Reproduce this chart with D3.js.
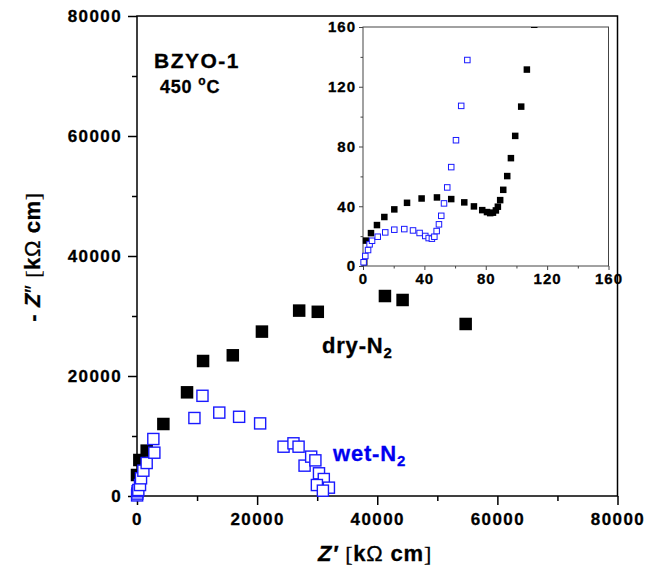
<!DOCTYPE html>
<meta charset="utf-8">
<head>
    <title>BZYO-1 impedance</title>
    <script src="https://cdn.jsdelivr.net/npm/d3@7"></script>
    <style>
        html, body { margin: 0; padding: 0; background: white; }
        svg text { font-family: "Liberation Sans", Arial, sans-serif; font-weight: bold; }
    </style>
</head>
<body>
<svg id="chart" width="659" height="570"></svg>
<script>
    // main plot data, Z' and -Z'' in kOhm cm
    var dryRe = [0, 390, 1610, 4390, 8330, 11000, 15950, 20800, 27000, 30100, 41280, 44220, 54720];
    var dryIm = [3500, 6000, 7560, 12000, 17280, 22500, 23450, 27400, 30900, 30700, 33330, 32670, 28670];
    var wetRe = [20, 50, 100, 220, 500, 670, 1060, 1610, 2890, 2720, 9560, 10900, 13700, 17000, 20500,
                 24400, 26050, 26900, 27900, 29000, 29700, 30300, 31100, 29950, 31950, 30950];
    var wetIm = [100, 400, 800, 1000, 1830, 2950, 4220, 5500, 7220, 9500, 13000, 16700, 13900, 13200, 12100,
                 8220, 8780, 8220, 5060, 6560, 5940, 3780, 2830, 1830, 1390, 890];

    // inset data (high frequency part)
    var dryReIn = [0.8, 2, 5.2, 9.1, 13.9, 20.4, 28.7, 38.2, 48.2, 57.5, 66, 72.3, 77.7, 80.8, 82.9, 84.7,
                   86.6, 87.9, 89.4, 91.4, 94, 96.4, 99.2, 103.1, 106.8, 111.6];
    var dryImIn = [2.5, 17, 22, 27.4, 32.8, 37.9, 42.3, 45.2, 45.9, 44.8, 42.6, 39.9, 37.4, 36.1, 35.4, 35.7,
                   37.2, 39.7, 44.1, 51, 60.2, 72.2, 87.1, 106.7, 131.5, 161.5];
    var wetReIn = [0.4, 1.5, 3.3, 4.3, 5.9, 9.6, 14.5, 20.4, 26.9, 32.6, 36.9, 40.6, 42.8, 44.9, 46.5,
                   48, 49.5, 51, 52.8, 54.9, 57.5, 60.6, 64, 68];
    var wetImIn = [2.5, 6.7, 10.7, 14.5, 16.9, 19.6, 22.5, 24.3, 24.7, 23.8, 22.1, 20.1, 18.7, 18.3, 19.6,
                   23.4, 27.9, 33.6, 41.9, 52.6, 66.2, 84.2, 107.2, 137.9];

    var mainTicks = [0, 20000, 40000, 60000, 80000];
    var insetTicks = [0, 40, 80, 120, 160];

    var svg = d3.select("#chart");

    // scales
    var x = d3.scaleLinear().domain([0, 80000]).range([137, 617.5]);
    var y = d3.scaleLinear().domain([0, 80000]).range([496, 16]);
    var xi = d3.scaleLinear().domain([0, 160]).range([363, 608.5]);
    var yi = d3.scaleLinear().domain([0, 160]).range([266, 27]);

    function styleAxis(g, labelSize, color, width) {
        g.select(".domain").remove();
        g.selectAll("line").attr("stroke", color).attr("stroke-width", width);
        g.selectAll("text").attr("font-size", labelSize).attr("letter-spacing", labelSize > 15 ? 1.4 : 1)
            .attr("fill", "#000").attr("stroke", "#000").attr("stroke-width", 0.3);
    }

    // main frame
    svg.append("rect")
        .attr("x", x(0)).attr("y", y(80000))
        .attr("width", x(80000) - x(0)).attr("height", y(0) - y(80000))
        .attr("fill", "none").attr("stroke", "#000").attr("stroke-width", 1.5);

    // minor ticks
    var minor = d3.range(10000, 80000, 20000);
    svg.append("g").attr("transform", "translate(0," + y(0) + ")")
        .call(d3.axisBottom(x).tickValues(minor).tickSize(5).tickFormat(""))
        .call(g => styleAxis(g, 17, "#000", 1.5));
    svg.append("g").attr("transform", "translate(" + x(0) + ",0)")
        .call(d3.axisLeft(y).tickValues(minor).tickSize(5).tickFormat(""))
        .call(g => styleAxis(g, 17, "#000", 1.5));

    // major ticks
    svg.append("g").attr("transform", "translate(0," + y(0) + ")")
        .call(d3.axisBottom(x).tickValues(mainTicks).tickSize(9).tickPadding(8).tickFormat(d3.format("d")))
        .call(g => styleAxis(g, 17, "#000", 1.5));
    svg.append("g").attr("transform", "translate(" + x(0) + ",0)")
        .call(d3.axisLeft(y).tickValues(mainTicks).tickSize(9).tickPadding(6).tickFormat(d3.format("d")))
        .call(g => styleAxis(g, 17, "#000", 1.5));

    // main markers
    var big = 12.5;
    svg.append("g").selectAll("rect")
        .data(d3.range(dryRe.length))
        .join("rect")
        .attr("x", i => x(dryRe[i]) - big / 2)
        .attr("y", i => y(dryIm[i]) - big / 2)
        .attr("width", big).attr("height", big)
        .attr("fill", "#000");

    svg.append("g").selectAll("rect")
        .data(d3.range(wetRe.length))
        .join("rect")
        .attr("x", i => x(wetRe[i]) - (big - 1.4) / 2)
        .attr("y", i => y(wetIm[i]) - (big - 1.4) / 2)
        .attr("width", big - 1.4).attr("height", big - 1.4)
        .attr("fill", "white").attr("stroke", "#1a1aff").attr("stroke-width", 1.4);

    // inset
    var inset = svg.append("g");
    inset.append("rect")
        .attr("x", xi(0)).attr("y", yi(160))
        .attr("width", xi(160) - xi(0)).attr("height", yi(0) - yi(160))
        .attr("fill", "white").attr("stroke", "#444").attr("stroke-width", 1);

    var minorIn = [20, 60, 100, 140];
    inset.append("g").attr("transform", "translate(0," + yi(0) + ")")
        .call(d3.axisBottom(xi).tickValues(minorIn).tickSize(2.5).tickFormat(""))
        .call(g => styleAxis(g, 15, "#444", 1));
    inset.append("g").attr("transform", "translate(" + xi(0) + ",0)")
        .call(d3.axisLeft(yi).tickValues(minorIn).tickSize(2.5).tickFormat(""))
        .call(g => styleAxis(g, 15, "#444", 1));
    inset.append("g").attr("transform", "translate(0," + yi(0) + ")")
        .call(d3.axisBottom(xi).tickValues(insetTicks).tickSize(4).tickPadding(3))
        .call(g => styleAxis(g, 15, "#444", 1));
    inset.append("g").attr("transform", "translate(" + xi(0) + ",0)")
        .call(d3.axisLeft(yi).tickValues(insetTicks).tickSize(4).tickPadding(3))
        .call(g => styleAxis(g, 15, "#444", 1));

    svg.append("clipPath").attr("id", "insetClip")
        .append("rect")
        .attr("x", xi(0) - 5).attr("y", yi(160))
        .attr("width", xi(160) - xi(0) + 5).attr("height", yi(0) - yi(160) + 5);

    var small = 6.5;
    var pts = inset.append("g").attr("clip-path", "url(#insetClip)");
    pts.append("g").selectAll("rect")
        .data(d3.range(dryReIn.length))
        .join("rect")
        .attr("x", i => xi(dryReIn[i]) - small / 2)
        .attr("y", i => yi(dryImIn[i]) - small / 2)
        .attr("width", small).attr("height", small)
        .attr("fill", "#000");
    pts.append("g").selectAll("rect")
        .data(d3.range(wetReIn.length))
        .join("rect")
        .attr("x", i => xi(wetReIn[i]) - (small - 1) / 2)
        .attr("y", i => yi(wetImIn[i]) - (small - 1) / 2)
        .attr("width", small - 1).attr("height", small - 1)
        .attr("fill", "white").attr("stroke", "#1a1aff").attr("stroke-width", 1);

    // annotations
    svg.append("text").attr("x", 154).attr("y", 68)
        .attr("font-size", 21).attr("letter-spacing", 1.5)
        .attr("stroke", "#000").attr("stroke-width", 0.3).text("BZYO-1");
    var t450 = svg.append("text").attr("x", 160).attr("y", 93)
        .attr("font-size", 18).attr("letter-spacing", 0.8)
        .attr("stroke", "#000").attr("stroke-width", 0.3);
    t450.append("tspan").text("450 ");
    t450.append("tspan").attr("font-size", 12).attr("dy", -8).text("o");
    t450.append("tspan").attr("dy", 8).text("C");

    var dry = svg.append("text").attr("x", 322).attr("y", 353)
        .attr("font-size", 22).attr("letter-spacing", 0.8).attr("fill", "#000")
        .attr("stroke", "#000").attr("stroke-width", 0.3);
    dry.append("tspan").text("dry-N");
    dry.append("tspan").attr("font-size", 15).attr("dy", 5).text("2");

    var wet = svg.append("text").attr("x", 333).attr("y", 461)
        .attr("font-size", 22).attr("letter-spacing", 0.8).attr("fill", "#0000f0")
        .attr("stroke", "#0000f0").attr("stroke-width", 0.3);
    wet.append("tspan").text("wet-N");
    wet.append("tspan").attr("font-size", 15).attr("dy", 5).text("2");

    // axis titles
    var xt = svg.append("text").attr("x", 375).attr("y", 561)
        .attr("text-anchor", "middle").attr("font-size", 22).attr("letter-spacing", 0.8)
        .attr("stroke", "#000").attr("stroke-width", 0.3);
    xt.append("tspan").attr("font-style", "italic").text("Z\u2032 ");
    xt.append("tspan").attr("font-weight", "normal").attr("font-family", "Liberation Serif, serif").text("[");
    xt.append("tspan").text("k");
    xt.append("tspan").attr("font-weight", "normal").text("\u03A9");
    xt.append("tspan").text(" cm");
    xt.append("tspan").attr("font-weight", "normal").attr("font-family", "Liberation Serif, serif").text("]");

    var yt = svg.append("text").attr("transform", "translate(40,257) rotate(-90)")
        .attr("text-anchor", "middle").attr("font-size", 22).attr("letter-spacing", 0.6)
        .attr("stroke", "#000").attr("stroke-width", 0.3);
    yt.append("tspan").text("- ");
    yt.append("tspan").attr("font-style", "italic").text("Z");
    yt.append("tspan").attr("font-weight", "normal").text("\u2033 ");
    yt.append("tspan").attr("font-weight", "normal").attr("font-family", "Liberation Serif, serif").text(" [");
    yt.append("tspan").text("k");
    yt.append("tspan").attr("font-weight", "normal").text("\u03A9");
    yt.append("tspan").text(" cm");
    yt.append("tspan").attr("font-weight", "normal").attr("font-family", "Liberation Serif, serif").text("]");
</script>
</body>
</html>
